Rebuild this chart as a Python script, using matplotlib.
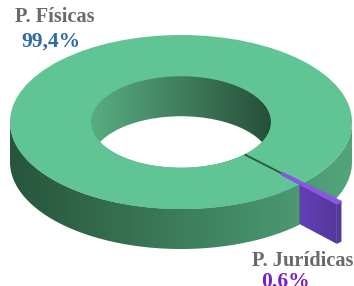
import numpy as np
import matplotlib
matplotlib.use("Agg")
import matplotlib.pyplot as plt
from matplotlib.patches import Ellipse, Polygon
from matplotlib.colors import LinearSegmentedColormap

# data
labels = ["P. Físicas", "P. Jurídicas"]
values = [99.4, 0.6]
value_labels = ["99,4%", "0,6%"]
colors = ["#60c494", "#8b55e6"]
label_colors = ["#2f6aa6", "#7a1fc4"]

# ring geometry (pixel units)
W, H = 354, 286
cx, cy = 181, 122
rx, ry = 171, 87
depth = 40
inner = 0.526
explode = 0.31
end_angle = -44.0  # where the small slice starts (degrees)

fig = plt.figure(figsize=(W / 100, H / 100), dpi=100)
ax = fig.add_axes([0, 0, 1, 1])
ax.set_xlim(0, W)
ax.set_ylim(H, 0)
ax.axis("off")


def pt(r, t, dz=0.0, off=(0.0, 0.0)):
    a = np.radians(t)
    return (cx + off[0] + rx * r * np.cos(a), cy + off[1] - ry * r * np.sin(a) + dz)


def gradient(patch, c_left, c_right, x0, x1, y0, y1, z):
    cmap = LinearSegmentedColormap.from_list("g", [c_left, c_right])
    g = np.linspace(0, 1, 256).reshape(1, -1)
    im = ax.imshow(g, extent=[x0, x1, y1, y0], cmap=cmap, aspect="auto",
                   zorder=z, interpolation="bicubic")
    im.set_clip_path(patch)


def wall_patch(ta, tb, z):
    ts = np.linspace(ta, tb, 200)
    pts = [pt(1.0, t) for t in ts] + [pt(1.0, t, depth) for t in ts[::-1]]
    p = Polygon(pts, closed=True, facecolor="none", edgecolor="none", zorder=z)
    ax.add_patch(p)
    gradient(p, "#27553d", "#52a57b", cx - rx, cx + rx, cy - 10, cy + ry + depth + 2, z)


# angles of the small slice
span = 360 * values[1] / sum(values)
t0, t1 = end_angle - span, end_angle
a_mid = np.radians(end_angle - span / 2)
off = (rx * explode * np.cos(a_mid), -ry * explode * np.sin(a_mid))

# back part of the outer wall (behind the exploded slice)
wall_patch(t1, 0, 1)

# top face
ax.add_patch(Ellipse((cx, cy), 2 * rx, 2 * ry, facecolor=colors[0], edgecolor="none", zorder=2))

# hole: inner wall then the opening underneath
hole = Ellipse((cx, cy), 2 * rx * inner, 2 * ry * inner, facecolor="none", edgecolor="none", zorder=3)
ax.add_patch(hole)
gradient(hole, "#58ad82", "#274f3a", cx - rx * inner, cx + rx * inner,
         cy - ry * inner, cy + ry * inner, 3)
opening = Ellipse((cx, cy + depth), 2 * rx * inner, 2 * ry * inner,
                  facecolor="white", edgecolor="none", zorder=4)
ax.add_patch(opening)
opening.set_clip_path(hole)

# exploded slice: radial face and outer side
p_in = pt(inner, t0, off=off)
p_out = pt(1.0, t0, off=off)
face = Polygon([p_in, p_out, (p_out[0], p_out[1] + depth), (p_in[0], p_in[1] + depth)],
               closed=True, facecolor="none", edgecolor="none", zorder=5)
ax.add_patch(face)
gradient(face, "#6a42c4", "#54389a", p_in[0], p_out[0] + 1, p_in[1], p_out[1] + depth, 5)
ts2 = np.linspace(t0, t1, 10)
side_s = [pt(1.0, t, off=off) for t in ts2] + [pt(1.0, t, depth, off) for t in ts2[::-1]]
ax.add_patch(Polygon(side_s, closed=True, facecolor="#54389a", edgecolor="none", zorder=5))

# front part of the ring, drawn over the slice face
wall_patch(-180, t0, 6)
ts3 = np.linspace(-180, t0, 200)
front_top = [pt(1.0, t) for t in ts3] + [pt(inner, t) for t in ts3[::-1]]
ax.add_patch(Polygon(front_top, closed=True, facecolor=colors[0], edgecolor="none", zorder=6))

# gap left by the small slice
g_in, g_out = pt(inner, end_angle - span / 2), pt(1.0, end_angle - span / 2)
ax.plot([g_in[0], g_out[0]], [g_in[1], g_out[1]], color="#2c5642", lw=1.3, zorder=7,
        solid_capstyle="butt")

# top of the exploded slice
top_s = [pt(1.0, t, off=off) for t in ts2] + [pt(inner, t, off=off) for t in ts2[::-1]]
ax.add_patch(Polygon(top_s, closed=True, facecolor=colors[1], edgecolor=colors[1],
                     lw=1.0, zorder=8))

# labels
font = "Liberation Serif"
ax.text(55, 22, labels[0], color="#6a6a6a", fontsize=14.7, fontweight="bold",
        family=font, ha="center", va="baseline", zorder=9)
ax.text(51, 47, value_labels[0], color=label_colors[0], fontsize=15.5, fontweight="bold",
        family=font, ha="center", va="baseline", zorder=9)
ax.text(303, 266, labels[1], color="#6a6a6a", fontsize=14.7, fontweight="bold",
        family=font, ha="center", va="baseline", zorder=9)
ax.text(285, 287, value_labels[1], color=label_colors[1], fontsize=15.5, fontweight="bold",
        family=font, ha="center", va="baseline", zorder=9)

fig.savefig("out.png", dpi=100)
